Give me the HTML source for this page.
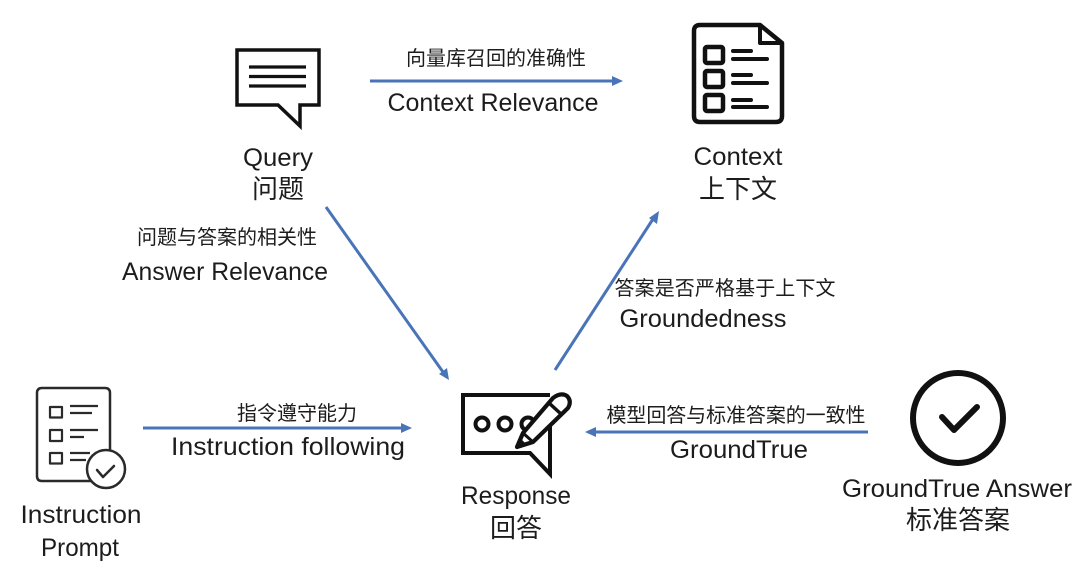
<!DOCTYPE html>
<html><head><meta charset="utf-8">
<style>
html,body{margin:0;padding:0;background:#fff;width:1080px;height:574px;overflow:hidden}
svg{display:block}
text{font-family:"Liberation Sans","Noto Sans CJK SC",sans-serif;fill:#1c1c1c;text-anchor:middle}
.c{font-family:"Noto Sans CJK SC","Liberation Sans",sans-serif}
.n{font-size:25px}
.b{font-size:26px}
.s{font-size:20px}
</style></head>
<body>
<svg width="1080" height="574" viewBox="0 0 1080 574" xmlns="http://www.w3.org/2000/svg">
<!-- arrows -->
<g stroke="#4a74b8" stroke-width="3" fill="none">
<line x1="370" y1="81" x2="614" y2="81"/>
<line x1="326" y1="207" x2="443" y2="372"/>
<line x1="555" y1="370" x2="653" y2="219"/>
<line x1="143" y1="428" x2="404" y2="428"/>
<line x1="868" y1="432" x2="593" y2="432"/>
</g>
<g fill="#4a74b8">
<polygon points="623,81 612,76 612,86"/>
<polygon points="449,380 439,374 447,368"/>
<polygon points="659,211 657,224 649,218"/>
<polygon points="412,428 401,423 401,433"/>
<polygon points="585,432 596,427 596,437"/>
</g>
<!-- query icon -->
<g fill="none" stroke="#111" stroke-width="3.5" stroke-linejoin="miter">
<path d="M237,50H319V105H300V126L278,105H237Z"/>
<path d="M249,67H306M249,76.500H306M249,86H306" stroke-width="3.200"/>
</g>
<!-- context icon -->
<g fill="none" stroke="#111" stroke-linejoin="round" stroke-linecap="round">
<path d="M700,25H760L782,43V116Q782,122 776,122H700Q694,122 694,116V31Q694,25 700,25Z" stroke-width="4.500"/>
<path d="M760,26V43H782" stroke-width="4"/>
<rect x="705" y="47" width="18" height="16" rx="2" stroke-width="4.500"/>
<rect x="705" y="71" width="18" height="16" rx="2" stroke-width="4.500"/>
<rect x="705" y="95" width="18" height="16" rx="2" stroke-width="4.500"/>
<path d="M733,51H751M733,59H767M733,75H751M733,83H767M733,100H751M733,107H767" stroke-width="4"/>
</g>
<!-- instruction icon -->
<g fill="none" stroke="#2a2a2a" stroke-linejoin="round">
<path d="M94,481H42Q37,481 37,476V393Q37,388 42,388H105Q110,388 110,393V450" stroke-width="2.500"/>
<rect x="50" y="407" width="12" height="10.500" stroke-width="2.200"/>
<rect x="50" y="430" width="12" height="11" stroke-width="2.200"/>
<rect x="50" y="453" width="12" height="10.500" stroke-width="2.200"/>
<path d="M70,406H98M70,413H92M70,430H98M70,437H84M70,453H90M70,460H86" stroke-width="2.200"/>
<circle cx="106" cy="469" r="19" fill="#fff" stroke-width="2.500"/>
<path d="M97,470L103,477L114,466" stroke-width="2.500" stroke-linecap="round"/>
</g>
<!-- response icon -->
<g fill="none" stroke="#111" stroke-width="4">
<path d="M550,415V474L530,453H463V395H550" stroke-miterlimit="10"/>
<circle cx="482" cy="424" r="6.500"/>
<circle cx="505" cy="424" r="6.500"/>
<circle cx="528" cy="424" r="6.500"/>
<path d="M517,447L523,433L553,398Q561,392 567,396Q572,401 568,408L533,442Z" fill="#fff" stroke-linejoin="round" stroke-width="4.200"/>
<path d="M523,433L533,442" stroke-width="3"/>
<path d="M549,403L561,414" stroke-width="3.500"/>
<path d="M517,447L520,439L525,444Z" fill="#111" stroke-width="1.500"/>
</g>
<!-- GT icon -->
<g fill="none" stroke="#111">
<circle cx="958" cy="418" r="45" stroke-width="6"/>
<path d="M942,417L954,430L977,407" stroke-width="6" stroke-linecap="round" stroke-linejoin="round"/>
</g>
<!-- labels -->
<text class="n" x="278" y="166" textLength="70" lengthAdjust="spacingAndGlyphs">Query</text>
<text class="b c" x="278" y="198">问题</text>
<text class="n" x="738" y="165" textLength="89" lengthAdjust="spacingAndGlyphs">Context</text>
<text class="b c" x="738" y="198">上下文</text>
<text class="n" x="81" y="523" textLength="121" lengthAdjust="spacingAndGlyphs">Instruction</text>
<text class="n" x="80" y="556" textLength="78" lengthAdjust="spacingAndGlyphs">Prompt</text>
<text class="n" x="516" y="504" textLength="110" lengthAdjust="spacingAndGlyphs">Response</text>
<text class="b c" x="516" y="537">回答</text>
<text class="n" x="957" y="497" textLength="230" lengthAdjust="spacingAndGlyphs">GroundTrue Answer</text>
<text class="b c" x="958" y="529">标准答案</text>
<text class="s c" x="496" y="65">向量库召回的准确性</text>
<text class="n" x="493" y="111" textLength="211" lengthAdjust="spacingAndGlyphs">Context Relevance</text>
<text class="s c" x="227" y="244">问题与答案的相关性</text>
<text class="n" x="225" y="280" textLength="206" lengthAdjust="spacingAndGlyphs">Answer Relevance</text>
<text class="s c" x="725" y="295" textLength="221" lengthAdjust="spacing">答案是否严格基于上下文</text>
<text class="n" x="703" y="327" textLength="167" lengthAdjust="spacingAndGlyphs">Groundedness</text>
<text class="s c" x="297" y="420">指令遵守能力</text>
<text class="n" x="288" y="455" textLength="234" lengthAdjust="spacingAndGlyphs">Instruction following</text>
<text class="s c" x="736" y="422" textLength="259" lengthAdjust="spacing">模型回答与标准答案的一致性</text>
<text class="n" x="739" y="458" textLength="138" lengthAdjust="spacingAndGlyphs">GroundTrue</text>
</svg>
</body></html>
